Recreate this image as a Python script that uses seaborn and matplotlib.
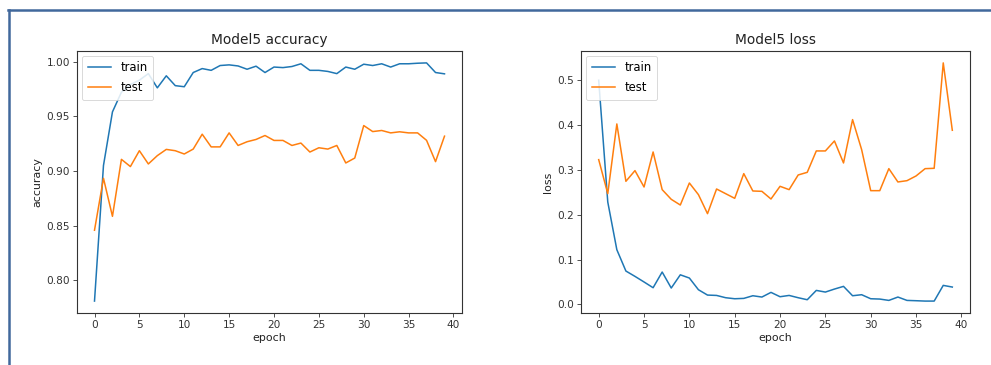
import matplotlib.pyplot as plt
import pandas as pd
import seaborn as sns
from matplotlib.lines import Line2D

# values (40 epochs)
epochs = list(range(40))

acc_train = [0.781, 0.905, 0.954, 0.972, 0.979, 0.983, 0.989, 0.976, 0.987, 0.978,
             0.977, 0.990, 0.9936, 0.992, 0.9964, 0.997, 0.996, 0.993, 0.9958, 0.990,
             0.995, 0.9945, 0.9955, 0.998, 0.992, 0.992, 0.991, 0.989, 0.995, 0.993,
             0.9976, 0.9964, 0.998, 0.995, 0.998, 0.998, 0.9985, 0.9988, 0.990, 0.9888]
acc_test = [0.8458, 0.8933, 0.8585, 0.9106, 0.904, 0.9185, 0.9064, 0.914, 0.9197, 0.9185,
            0.9155, 0.920, 0.9336, 0.922, 0.922, 0.9348, 0.9233, 0.9267, 0.9288, 0.9324,
            0.9279, 0.9279, 0.9233, 0.9255, 0.9173, 0.9212, 0.920, 0.9233, 0.9073, 0.9118,
            0.9415, 0.936, 0.937, 0.9348, 0.9358, 0.9348, 0.9348, 0.928, 0.9085, 0.9318]

loss_train = [0.50, 0.2284, 0.122, 0.0744, 0.0625, 0.050, 0.0372, 0.0722, 0.0365, 0.066,
              0.0588, 0.0327, 0.0208, 0.020, 0.0149, 0.0126, 0.0134, 0.0193, 0.0164, 0.0268,
              0.0171, 0.020, 0.0149, 0.0104, 0.0312, 0.0275, 0.0342, 0.0402, 0.0193, 0.0216,
              0.0126, 0.0119, 0.0089, 0.0164, 0.0089, 0.0082, 0.0074, 0.0074, 0.0424, 0.0387]
loss_test = [0.3229, 0.247, 0.4025, 0.2746, 0.2984, 0.2619, 0.340, 0.256, 0.2344, 0.2217,
             0.2708, 0.2448, 0.2024, 0.2574, 0.247, 0.2366, 0.2917, 0.253, 0.2522, 0.2351,
             0.2634, 0.256, 0.2887, 0.2946, 0.3423, 0.3423, 0.3646, 0.3155, 0.4122, 0.3452,
             0.2537, 0.2537, 0.3028, 0.2731, 0.276, 0.2865, 0.3028, 0.3036, 0.5387, 0.3884]

series_names = ["train", "test"]
colors = ["#1f77b4", "#ff7f0e"]


def long_frame(train, test):
    return pd.DataFrame({
        "epoch": epochs * 2,
        "value": train + test,
        "set": ["train"] * len(train) + ["test"] * len(test),
    })


def draw(ax, df, title, ylabel, fmt):
    sns.lineplot(data=df, x="epoch", y="value", hue="set", hue_order=series_names,
                 palette=colors, linewidth=1.1, ax=ax)
    ax.set_title(title, fontsize=9.9, pad=5, color="#222222")
    ax.set_xlabel("epoch", fontsize=7.9, labelpad=2, color="#222222")
    ax.set_ylabel(ylabel, fontsize=7.9, labelpad=3, color="#222222")
    ax.set_xticks(range(0, 41, 5))
    ax.yaxis.set_major_formatter(plt.FormatStrFormatter(fmt))
    ax.tick_params(labelsize=7.6, length=3, width=0.6, pad=2, colors="#333333")
    for s in ax.spines.values():
        s.set_linewidth(0.8)
        s.set_color("#333333")
    leg = ax.legend(loc="upper left", fontsize=8.4, title=None, framealpha=0.85,
                    edgecolor="#cccccc", handlelength=2.0, labelspacing=0.6,
                    borderaxespad=0.4, borderpad=0.5)
    leg.get_frame().set_linewidth(0.6)


fig = plt.figure(figsize=(9.91, 3.65), dpi=100)
ax1 = fig.add_axes([0.0777, 0.1425, 0.3885, 0.7178])
ax2 = fig.add_axes([0.5863, 0.1425, 0.3925, 0.7178])

draw(ax1, long_frame(acc_train, acc_test), "Model5 accuracy", "accuracy", "%.2f")
ax1.set_yticks([0.80, 0.85, 0.90, 0.95, 1.00])
draw(ax2, long_frame(loss_train, loss_test), "Model5 loss", "loss", "%.1f")
ax2.set_yticks([0.0, 0.1, 0.2, 0.3, 0.4, 0.5])

# notebook output frame
border = "#41689c"
fig.add_artist(Line2D([0.0085, 1.0], [0.9726, 0.9726], transform=fig.transFigure,
                      color=border, linewidth=1.8))
fig.add_artist(Line2D([0.0091, 0.0091], [0.0, 0.9726], transform=fig.transFigure,
                      color=border, linewidth=1.8))

fig.savefig("out.png", dpi=100)
